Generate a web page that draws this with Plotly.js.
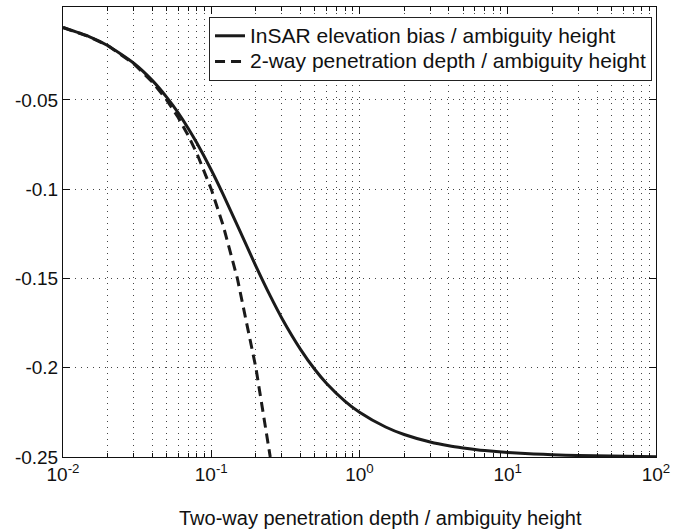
<!DOCTYPE html>
<html>
<head>
<meta charset="utf-8">
<script src="https://cdn.plot.ly/plotly-3.0.1.min.js"></script>
<style>html,body{margin:0;padding:0;background:#fff;}#chart{width:684px;height:531px;}</style>
</head>
<body>
<div id="chart"></div>
<script>
// Two-way penetration depth / ambiguity height (x, log scale)
var ratio = [0.01, 0.015, 0.02, 0.03, 0.04, 0.05, 0.06, 0.07, 0.08, 0.1, 0.12, 0.15, 0.2, 0.25, 0.3, 0.4, 0.5, 0.6, 0.8, 1, 1.5, 2, 3, 4, 5, 7, 10, 15, 20, 30, 50, 100];
// InSAR elevation bias / ambiguity height (solid)
var biasRatio = [-0.0095, -0.0146, -0.0196, -0.0295, -0.0391, -0.0485, -0.0574, -0.0660, -0.0742, -0.0893, -0.1028, -0.1203, -0.1431, -0.1598, -0.1724, -0.1897, -0.2010, -0.2088, -0.2188, -0.2249, -0.2332, -0.2374, -0.2416, -0.2437, -0.2449, -0.2464, -0.2475, -0.2483, -0.2487, -0.2492, -0.2495, -0.2498];
// 2-way penetration depth / ambiguity height (dashed)
var depthX = [0.01, 0.015, 0.02, 0.03, 0.04, 0.05, 0.06, 0.07, 0.08, 0.1, 0.12, 0.15, 0.2, 0.25];
var depthRatio = [-0.0095, -0.0146, -0.0196, -0.0297, -0.04, -0.05, -0.06, -0.07, -0.08, -0.1, -0.12, -0.15, -0.2, -0.25];

var xTickVals = [0.01, 0.1, 1, 10, 100];
var xTickText = ['10<sup>-2</sup>', '10<sup>-1</sup>', '10<sup>0</sup>', '10<sup>1</sup>', '10<sup>2</sup>'];
var yTickVals = [-0.25, -0.2, -0.15, -0.1, -0.05];
var yTickText = ['-0.25', '-0.2', '-0.15', '-0.1', '-0.05'];

var names = ['InSAR elevation bias / ambiguity height', '2-way penetration depth / ambiguity height'];
var xTitle = 'Two-way penetration depth / ambiguity height';

var minorVals = [];
[0.01, 0.1, 1, 10].forEach(function (d) { for (var k = 2; k <= 9; k++) minorVals.push(k * d); });

var traces = [
  {x: ratio, y: biasRatio, type: 'scatter', mode: 'lines',
   name: '<span style="font-size:21px">' + names[0] + '</span>',
   line: {color: '#1a1a1a', width: 3, shape: 'spline', smoothing: 0.6}},
  {x: depthX, y: depthRatio, type: 'scatter', mode: 'lines',
   name: '<span style="font-size:21px">' + names[1] + '</span>',
   line: {color: '#1a1a1a', width: 3, dash: '10px,6px'}}
];

var font = {family: '"Liberation Sans", Arial, Helvetica, sans-serif', size: 19, color: '#111'};

var layout = {
  width: 684, height: 531,
  margin: {l: 63, r: 28, t: 7, b: 74, pad: 0},
  paper_bgcolor: '#fff', plot_bgcolor: '#fff',
  font: font,
  showlegend: true,
  legend: {x: 0.9933, xanchor: 'right', y: 0.978, yanchor: 'top',
           bgcolor: '#fff', bordercolor: '#222', borderwidth: 1,
           font: {family: font.family, size: 17.5, color: '#111'}, tracegroupgap: 0},
  xaxis: {type: 'log', range: [-2, 2], tickmode: 'array', tickvals: xTickVals, ticktext: xTickText,
          showline: true, linecolor: '#111', linewidth: 1, mirror: 'ticks',
          ticks: 'inside', ticklen: 7, tickcolor: '#111',
          showgrid: true, gridcolor: '#444', griddash: '1px,5px', gridwidth: 1, zeroline: false,
          minor: {tickmode: 'array', tickvals: minorVals, ticks: 'inside', ticklen: 4, tickcolor: '#111',
                  showgrid: true, gridcolor: '#444', griddash: '1px,5px', gridwidth: 1},
          tickfont: font},
  yaxis: {range: [-0.25, 0.002], tickmode: 'array', tickvals: yTickVals, ticktext: yTickText,
          showline: true, linecolor: '#111', linewidth: 1, mirror: 'ticks',
          ticks: 'inside', ticklen: 7, tickcolor: '#111',
          showgrid: true, gridcolor: '#444', griddash: '1px,5px', gridwidth: 1, zeroline: false,
          tickfont: font},
  annotations: [
    {text: xTitle, xref: 'paper', yref: 'paper', x: 0.5346, y: -0.136,
     xanchor: 'center', yanchor: 'middle', showarrow: false,
     font: {family: font.family, size: 20, color: '#111'}}
  ]
};

Plotly.newPlot('chart', traces, layout, {staticPlot: true, displayModeBar: false});
</script>
</body>
</html>
